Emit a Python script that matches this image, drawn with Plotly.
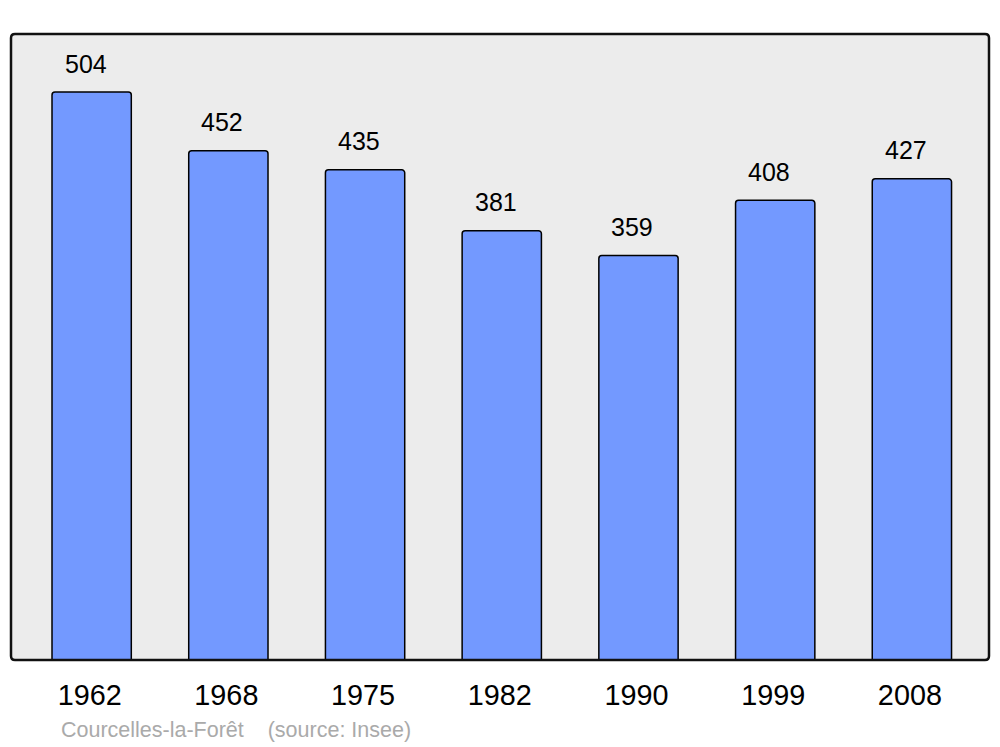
import plotly.graph_objects as go

years = ["1962", "1968", "1975", "1982", "1990", "1999", "2008"]
population = [504, 452, 435, 381, 359, 408, 427]
caption = "Courcelles-la-Forêt    (source: Insee)"

positions = list(range(len(years)))

fig = go.Figure()
fig.add_trace(go.Bar(
    x=positions, y=population, width=0.58,
    marker=dict(color="#7399ff", line=dict(color="#000000", width=1.5), cornerradius=3),
    hoverinfo="skip",
))

for xi, v in zip(positions, population):
    fig.add_annotation(x=xi, y=v, text=str(v), showarrow=False, xanchor="center", yanchor="middle",
                       xshift=-6, yshift=28.5,
                       font=dict(family="Liberation Sans, Arial, sans-serif", size=25, color="#000000"))

fig.add_annotation(xref="paper", yref="paper", x=(59 - 11) / 978, y=(660 - 730) / 626,
                   text=caption, showarrow=False, xanchor="left", yanchor="middle",
                   font=dict(family="Liberation Sans, Arial, sans-serif", size=21.5, color="#aaaaaa"))

# rounded border for plot area
rx, ry = 4 / 978, 4 / 626
path = (f"M {rx},0 L {1-rx},0 Q 1,0 1,{ry} L 1,{1-ry} Q 1,1 {1-rx},1 L {rx},1 Q 0,1 0,{1-ry} "
        f"L 0,{ry} Q 0,0 {rx},0 Z")
fig.add_shape(type="path", xref="paper", yref="paper", path=path,
              line=dict(color="#111111", width=2.5), layer="above")

fig.update_layout(
    width=1000, height=747,
    margin=dict(l=11, r=11, t=34, b=87),
    paper_bgcolor="#ffffff", plot_bgcolor="#ececec",
    showlegend=False,
    font=dict(family="Liberation Sans, Arial, sans-serif", color="#000000"),
    xaxis=dict(range=[-0.59, 6.564], tickmode="array", tickvals=positions, ticktext=years,
               showgrid=False, zeroline=False, showline=False,
               ticks="outside", ticklen=9, tickcolor="rgba(0,0,0,0)", ticklabelshift=-2,
               tickfont=dict(size=28.8, family="Liberation Sans, Arial, sans-serif", color="#000000")),
    yaxis=dict(range=[0, 555.5], showgrid=False, zeroline=False, showline=False,
               showticklabels=False, ticks=""),
)

fig.write_html("out.html", config={"displayModeBar": False},
               post_script="document.body.style.margin='0';")
